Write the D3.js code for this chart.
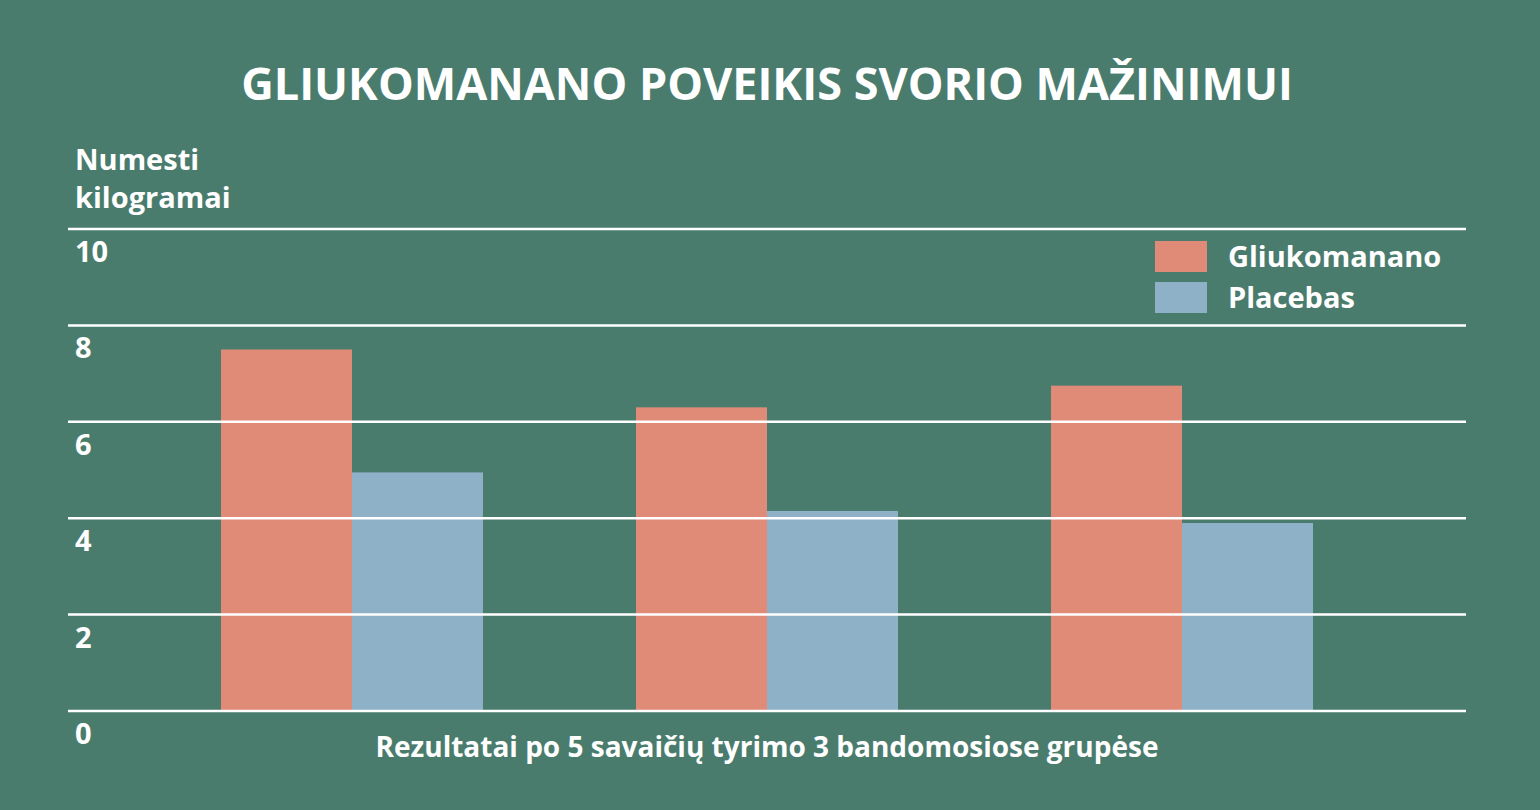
<!DOCTYPE html>
<html><head><meta charset="utf-8">
<script src="https://cdn.jsdelivr.net/npm/d3@7"></script>
<style>body{margin:0;background:#4a7c6e}</style></head>
<body><svg id="c" width="1540" height="810"></svg>
<script>
const groups = ["G1","G2","G3"];
const series = ["Gliukomanano","Placebas"];
const gliukomanano = [7.5, 6.3, 6.75];
const placebas = [4.95, 4.15, 3.9];
const yTicks = [0,2,4,6,8,10];
const colors = ["#e08a78","#8eb1c8"];

const svg = d3.select("#c");
const font = "'Open Sans', sans-serif";
svg.append("rect").attr("width",1540).attr("height",810).attr("fill","#4a7c6e");

const y = d3.scaleLinear().domain([0,10]).range([711,229]);
const x0 = d3.scaleBand().domain(groups).range([221,1313]).paddingInner(0.3687).paddingOuter(0);
const x1 = d3.scaleBand().domain(series).range([0,x0.bandwidth()]);

svg.append("text").attr("x",767).attr("y",100).attr("text-anchor","middle")
  .attr("font-family",font).attr("font-weight",700).attr("font-size",45).attr("fill","#fff")
  .text("GLIUKOMANANO POVEIKIS SVORIO MAŽINIMUI");

["Numesti","kilogramai"].forEach((t,i)=>svg.append("text").attr("x",75).attr("y",170+i*38)
  .attr("font-family",font).attr("font-weight",700).attr("font-size",29).attr("fill","#fff").text(t));

const data = groups.map((g,i)=>({g, vals:[gliukomanano[i],placebas[i]]}));
const gg = svg.selectAll("g.grp").data(data).join("g").attr("transform",d=>`translate(${x0(d.g)},0)`);
gg.selectAll("rect").data(d=>d.vals.map((v,j)=>({s:series[j],v,j}))).join("rect")
  .attr("x",d=>x1(d.s)).attr("width",x1.bandwidth())
  .attr("y",d=>y(d.v)).attr("height",d=>y(0)-y(d.v)).attr("fill",d=>colors[d.j]);

yTicks.forEach(t=>{
  svg.append("line").attr("x1",68).attr("x2",1466).attr("y1",y(t)).attr("y2",y(t))
    .attr("stroke","#fff").attr("stroke-width",2.5);
  svg.append("text").attr("x",75).attr("y",y(t)+33).attr("font-family",font).attr("font-weight",700)
    .attr("font-size",29).attr("fill","#fff").text(t);
});

series.forEach((s,i)=>{
  svg.append("rect").attr("x",1155).attr("y",241+i*41).attr("width",52).attr("height",31).attr("fill",colors[i]);
  svg.append("text").attr("x",1228).attr("y",267+i*41).attr("font-family",font).attr("font-weight",700)
    .attr("font-size",29).attr("fill","#fff").text(s);
});

svg.append("text").attr("x",767).attr("y",757).attr("text-anchor","middle").attr("font-family",font)
  .attr("font-weight",700).attr("font-size",28).attr("fill","#fff")
  .text("Rezultatai po 5 savaičių tyrimo 3 bandomosiose grupėse");
</script></body></html>
